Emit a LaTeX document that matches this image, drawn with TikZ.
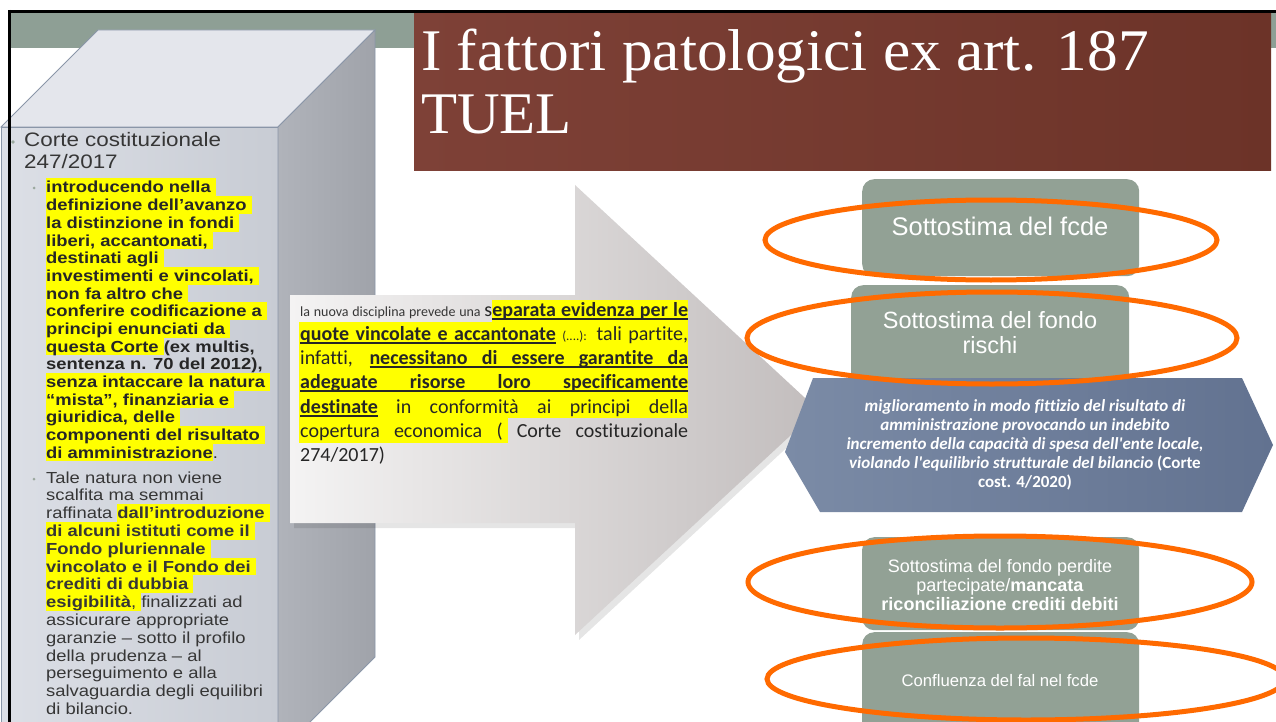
\documentclass[tikz,border=0pt]{standalone}
\usepackage{fontspec}
\setmainfont{Liberation Sans}
\newfontfamily\lsans[FakeStretch=1.15]{Liberation Sans}
\newfontfamily\carlito[Ligatures=NoCommon]{Carlito}
\newfontfamily\tserif{Liberation Serif}
\newfontfamily\tserifw[FakeStretch=1.04]{Liberation Serif}
\definecolor{band}{HTML}{8E9F95}
\definecolor{titleL}{HTML}{7E4137}
\definecolor{titleR}{HTML}{6C3328}
\definecolor{frontL}{HTML}{DCDFE6}
\definecolor{frontR}{HTML}{C8CCD4}
\definecolor{topf}{HTML}{E4E6EC}
\definecolor{sideL}{HTML}{B0B3BA}
\definecolor{sideR}{HTML}{A0A3AA}
\definecolor{cubeedge}{HTML}{8A96A8}
\definecolor{bulc}{HTML}{9AA89E}
\definecolor{lctext}{HTML}{262626}
\definecolor{lcgray}{HTML}{363636}
\definecolor{hly}{HTML}{FFFF00}
\definecolor{arrowL}{HTML}{F4F3F3}
\definecolor{arrowR}{HTML}{C2BDBD}
\definecolor{boxg}{HTML}{92A195}
\definecolor{hexL}{HTML}{7B8BA6}
\definecolor{hexR}{HTML}{627290}
\definecolor{orng}{HTML}{FF6A00}
\newcommand{\fs}[2]{\fontsize{#1}{#2}\selectfont}
\newcommand{\hl}[1]{{\setlength{\fboxsep}{0pt}\colorbox{hly}{\rule[-3.2pt]{0pt}{17.7pt}#1}}}
\newcommand{\uw}[1]{\setbox0\hbox{#1}\rlap{\rule[-3.5pt]{\wd0}{1.2pt}}\box0}
\newcommand{\us}{\leaders\hrule height -2.3pt depth 3.5pt\hskip\fontdimen2\font plus\fontdimen3\font minus\fontdimen4\font\relax}
\tikzset{
  lc/.style={anchor=base west, inner sep=0pt, text=lctext, font=\lsans\fs{16}{17.7}\bfseries},
  ln/.style={anchor=base west, inner sep=0pt, text=lcgray, font=\lsans\fs{16}{17.8}},
  mt/.style={anchor=base west, inner sep=0pt, text=lctext, font=\carlito\fs{20}{24}},
  rt/.style={anchor=base, inner sep=0pt, text=white},
  gbox/.style={fill=boxg, rounded corners=12pt, inner sep=0pt},
  ring/.style={draw=orng, line width=5pt},
  bul/.style={fill=bulc, circle, inner sep=0pt, minimum size=3.6pt},
}
\newcommand{\La}[3]{\node[lc] (#1) at (46,#2) {#3};}
\newcommand{\Lb}[3]{\node[ln] (#1) at (46,#2) {#3};}
\newcommand{\Mt}[3]{\node[mt] (#1) at (300,#2) {\makebox[388pt][s]{#3}};}
\begin{document}
\begin{tikzpicture}[x=1pt,y=-1pt]
\useasboundingbox (0,0) rectangle (1276,722);
\clip (0,0) rectangle (1276,722);
\fill[white] (0,0) rectangle (1276,722);
% top band
\fill[band] (11,13) rectangle (1276,48);
% title box
\node[name=titlebox, anchor=north west, inner sep=0pt, minimum width=857pt, minimum height=157pt,
  left color=titleL, right color=titleR] at (414,13) {};
\node[anchor=base west, inner sep=0pt, text=white, font=\tserifw\fs{59}{63}] (t1) at (421,71) {I fattori patologici ex art. 187};
\node[anchor=base west, inner sep=0pt, text=white, font=\tserif\fs{59}{63}] (t2) at (421,134) {TUEL};
% cube
\shade[left color=frontL, right color=frontR, draw=cubeedge, line width=0.8pt] (1,127) -- (278,127) -- (278,760) -- (1,760) -- cycle;
\fill[topf, draw=cubeedge, line width=0.8pt] (98,30) -- (375,30) -- (278,127) -- (1,127) -- cycle;
\shade[left color=sideL, right color=sideR, draw=cubeedge, line width=0.8pt] (278,127) -- (375,30) -- (375,657) -- (278,754) -- cycle;
% big arrow
\fill[black, opacity=0.10] (294,300) -- (579,300) -- (579,190) -- (822,415) -- (579,640) -- (579,528) -- (294,528) -- cycle;
\shade[left color=arrowL, right color=arrowR] (290,295) -- (575,295) -- (575,185) -- (818,410) -- (575,635) -- (575,523) -- (290,523) -- cycle;
% highlights middle text
\fill[hly] (492,300) rectangle (688,322);
\fill[hly] (299,322) rectangle (688,418);
\fill[hly] (299,418) rectangle (508,443);
% right boxes
\node[gbox, anchor=north west, minimum width=277pt, minimum height=97pt] (b1) at (862,179) {};
\node[gbox, anchor=north west, minimum width=278pt, minimum height=100pt] (b2) at (851,285) {};
\node[gbox, anchor=north west, minimum width=277pt, minimum height=93pt] (b3) at (862,537) {};
\node[gbox, anchor=north west, minimum width=277pt, minimum height=110pt] (b4) at (862,632) {};
% hexagon
\shade[left color=hexL, right color=hexR] (813,378) -- (1242,378) -- (1273,445) -- (1242,512) -- (820,512) -- (785,452) -- cycle;
% box texts
\node[rt, font=\fs{25.5}{28}] (b1t) at (1000,235) {Sottostima del fcde};
\node[rt, font=\fs{23.5}{25}] (b2t1) at (990,328) {Sottostima del fondo};
\node[rt, font=\fs{23.5}{25}] (b2t2) at (990,353) {rischi};
\node[rt, font=\fs{18}{19}] (b3t1) at (1000,572) {Sottostima del fondo perdite};
\node[rt, font=\fs{18}{19}] (b3t2) at (1000,591) {partecipate/\textbf{mancata}};
\node[rt, font=\fs{18}{19}\bfseries] (b3t3) at (1000,610) {riconciliazione crediti debiti};
\node[rt, font=\fs{16.7}{19}] (b4t) at (1000,686) {Confluenza del fal nel fcde};
% hexagon text
\node[rt, font=\carlito\fs{17}{19}\bfseries\itshape] (h1) at (1025,411) {miglioramento in modo fittizio del risultato di};
\node[rt, font=\carlito\fs{17}{19}\bfseries\itshape] (h2) at (1025,430) {amministrazione provocando un indebito};
\node[rt, font=\carlito\fs{17}{19}\bfseries\itshape] (h3) at (1025,449) {incremento della capacità di spesa dell'ente locale,};
\node[rt, font=\carlito\fs{17}{19}\bfseries] (h4) at (1025,468) {\itshape violando l'equilibrio strutturale del bilancio \upshape(Corte};
\node[rt, font=\carlito\fs{17}{19}\bfseries] (h5) at (1025,487) {cost. 4/2020)};
% ellipses
\draw[ring] (991,240) ellipse [x radius=226pt, y radius=40pt];
\draw[ring] (992,338) ellipse [x radius=245pt, y radius=46pt];
\draw[ring] (1000,582) ellipse [x radius=252pt, y radius=46pt];
\draw[ring] (1026,679) ellipse [x radius=259pt, y radius=41pt];
% middle text
\Mt{m1}{316}{{\fs{14}{16}\color{lcgray}la nuova disciplina prevede una }s\textbf{\uw{eparata}\us\uw{evidenza}\us\uw{per}\us\uw{le}}}
\Mt{m2}{340}{\textbf{\uw{quote}\us\uw{vincolate}\us\uw{e}\us\uw{accantonate}} {\fs{13}{15}(....):} tali partite,}
\Mt{m3}{364}{infatti, \textbf{\uw{necessitano}\us\uw{di}\us\uw{essere}\us\uw{garantite}\us\uw{da}}}
\Mt{m4}{388}{\textbf{\uw{adeguate}\us\uw{risorse}\us\uw{loro}\us\uw{specificamente}}}
\Mt{m5}{413}{\textbf{\uw{destinate}\us}in conformità ai principi della}
\Mt{m6}{437}{copertura economica ( Corte costituzionale}
\node[mt] (m7) at (300,461) {274/2017)};
% left column bullets
\node[bul] (p0) at (13,142) {};
\node[bul, minimum size=3pt] (p1) at (34,188) {};
\node[bul, minimum size=3pt] (p2) at (34,479) {};
\node[anchor=base west, inner sep=0pt, text=lcgray, font=\lsans\fs{19.5}{21.5}] (c1) at (24,147) {Corte costituzionale};
\node[anchor=base west, inner sep=0pt, text=lcgray, font=\lsans\fs{19.5}{21.5}] (c2) at (24,168) {247/2017};
\La{a1}{193}{\hl{introducendo nella\ }}
\La{a2}{210.7}{\hl{definizione dell’avanzo\ }}
\La{a3}{228.3}{\hl{la distinzione in fondi\ }}
\La{a4}{246}{\hl{liberi, accantonati,\ }}
\La{a5}{263.7}{\hl{destinati agli\ }}
\La{a6}{281.3}{\hl{investimenti e vincolati,\ }}
\La{a7}{299}{\hl{non fa altro che\ }}
\La{a8}{316.7}{\hl{conferire codificazione a\ }}
\La{a9}{334.3}{\hl{principi enunciati da\ }}
\La{a10}{352}{\hl{questa Corte\ }(ex multis,}
\La{a11}{369.7}{sentenza n. 70 del 2012),}
\La{a12}{387.3}{\hl{senza intaccare la natura\ }}
\La{a13}{405}{\hl{“mista”, finanziaria e\ }}
\La{a14}{422.7}{\hl{giuridica, delle\ }}
\La{a15}{440.3}{\hl{componenti del risultato\ }}
\La{a16}{458}{\hl{di amministrazione}\mdseries.}
\Lb{b1l}{483}{Tale natura non viene}
\Lb{b2l}{500.8}{scalfita ma semmai}
\Lb{b3l}{518.6}{raffinata \hl{\bfseries dall’introduzione\ }}
\Lb{b4l}{536.4}{\hl{\bfseries di alcuni istituti come il\ }}
\Lb{b5l}{554.2}{\hl{\bfseries Fondo pluriennale\ }}
\Lb{b6l}{572}{\hl{\bfseries vincolato e il Fondo dei\ }}
\Lb{b7l}{589.8}{\hl{\bfseries crediti di dubbia\ }}
\Lb{b8l}{607.6}{\hl{\textbf{esigibilità}, }finalizzati ad}
\Lb{b9l}{625.4}{assicurare appropriate}
\Lb{b10l}{643.2}{garanzie – sotto il profilo}
\Lb{b11l}{661}{della prudenza – al}
\Lb{b12l}{678.8}{perseguimento e alla}
\Lb{b13l}{696.6}{salvaguardia degli equilibri}
\Lb{b14l}{714.4}{di bilancio.}
% slide border
\draw[black, line width=3pt] (8,11.5) -- (1276,11.5);
\draw[black, line width=3pt] (9.5,10) -- (9.5,722);
\end{tikzpicture}
\end{document}
